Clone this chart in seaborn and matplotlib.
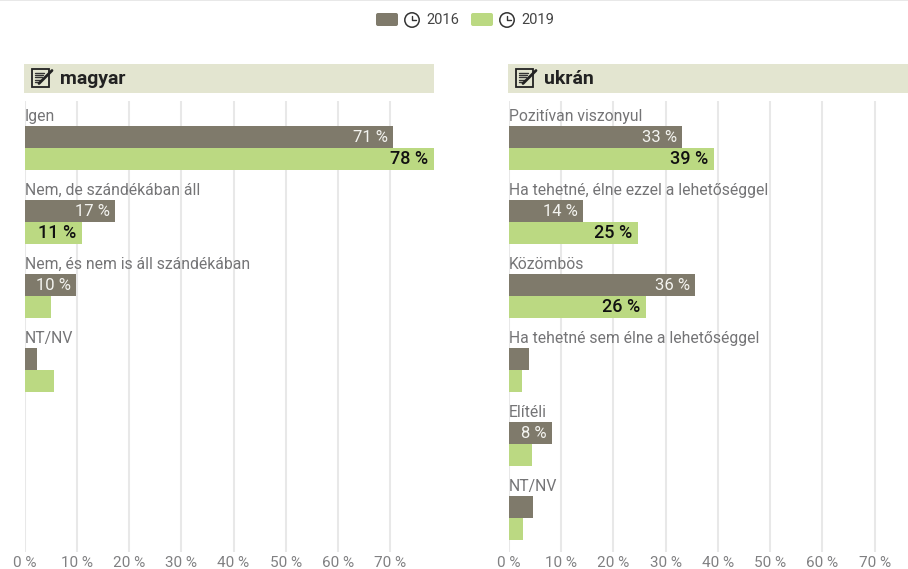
import matplotlib
matplotlib.use("Agg")
import matplotlib.pyplot as plt
import seaborn as sns
import pandas as pd
from matplotlib.patches import Rectangle, FancyBboxPatch, Circle
from matplotlib.lines import Line2D

W, H = 908, 569
DARK, GREEN = "#7f7a6b", "#bbd982"
BAND = "#e3e5d0"
GRID = "#e8e8e8"
LABEL_GREY = "#747476"
TICK_GREY = "#808082"

years = ["2016", "2019"]
ticks = [0, 10, 20, 30, 40, 50, 60, 70]

hu_title = "magyar"
hu_cats = ["Igen", "Nem, de szándékában áll", "Nem, és nem is áll szándékában", "NT/NV"]
hu_2016 = [70.6, 17.3, 9.9, 2.4]
hu_2019 = [78.4, 11.0, 5.1, 5.6]

uk_title = "ukrán"
uk_cats = ["Pozitívan viszonyul", "Ha tehetné, élne ezzel a lehetőséggel", "Közömbös",
           "Ha tehetné sem élne a lehetőséggel", "Elítéli", "NT/NV"]
uk_2016 = [33.1, 14.2, 35.6, 3.9, 8.3, 4.7]
uk_2019 = [39.3, 24.7, 26.3, 2.5, 4.5, 2.7]

sns.set_theme(style="white")
plt.rcParams["font.family"] = ["Roboto", "DejaVu Sans"]

fig = plt.figure(figsize=(W / 100, H / 100), dpi=100, facecolor="white")

# Pixel-addressed layer for the legend and header bands
layer = fig.add_axes([0, 0, 1, 1], zorder=0)
layer.set_xlim(0, W)
layer.set_ylim(H, 0)
layer.axis("off")


def clock(cx, cy, r=7.2):
    layer.add_patch(Circle((cx, cy), r, fc="white", ec="#333333", lw=1.1))
    layer.add_line(Line2D([cx, cx, cx + 4], [cy - 4.5, cy, cy], color="#333333", lw=1.0))


def note_icon(x, y):
    layer.add_patch(Rectangle((x, y), 17, 18, fc="none", ec="#222222", lw=1.3))
    for k in range(5):
        layer.add_line(Line2D([x + 2.5, x + 12 - k], [y + 4 + 2.4 * k] * 2, color="#333333", lw=1.0))
    layer.add_line(Line2D([x + 7, x + 20], [y + 15, y + 2], color="#222222", lw=2.0))


def legend_entry(x, colour, label):
    layer.add_patch(FancyBboxPatch((x + 1.5, 14.5), 19, 10, boxstyle="round,pad=1.5,rounding_size=2",
                                   fc=colour, ec="none"))
    clock(x + 36, 20)
    layer.text(x + 50, 20, label, fontsize=10.5, color="#444444", va="center", ha="left")


layer.add_patch(Rectangle((0, 0), W, 1, fc=GRID, ec="none"))
legend_entry(376, DARK, years[0])
legend_entry(471, GREEN, years[1])


def panel(title, cats, v16, v19, zero_px, right_px, scale, band):
    left = zero_px / W
    width = (right_px - zero_px) / W
    top_px, bottom_px = 101, 552
    ax = fig.add_axes([left, 1 - bottom_px / H, width, (bottom_px - top_px) / H], zorder=2)
    ax.patch.set_alpha(0)

    frame = pd.DataFrame({
        "valasz": cats * 2,
        "ertek": v16 + v19,
        "ev": [years[0]] * len(cats) + [years[1]] * len(cats),
    })
    sns.barplot(data=frame, y="valasz", x="ertek", hue="ev", palette=[DARK, GREEN], orient="h",
                width=0.59, gap=0, saturation=1, legend=False, linewidth=0, ax=ax, zorder=3)

    ax.set_xlim(0, (right_px - zero_px) / scale)
    ax.set_ylim((bottom_px - 148.2) / 74, (top_px - 148.2) / 74)
    ax.set_xlabel("")
    ax.set_ylabel("")
    ax.set_yticks([])
    ax.set_xticks(ticks)
    ax.set_xticklabels([f"{t} %" for t in ticks], fontsize=11, color=TICK_GREY)
    ax.tick_params(axis="x", length=0, pad=3)
    ax.grid(axis="x", color=GRID, lw=1.5)
    ax.grid(axis="y", visible=False)
    ax.set_axisbelow(True)
    sns.despine(ax=ax, left=True, bottom=True)

    # Value labels sit inside the bar end; small bars stay unlabelled
    for container, colour, weight, size, inset in zip(ax.containers, ["#f4f4f0", "#111111"],
                                                      ["normal", "medium"], [12, 13], [5, 6]):
        for bar in container:
            val = bar.get_width()
            if val >= 8:
                ax.annotate(f"{val:.0f} %", xy=(val, bar.get_y() + bar.get_height() / 2),
                            xytext=(-inset * 0.72, 0), textcoords="offset points",
                            ha="right", va="center", color=colour, fontsize=size,
                            fontweight=weight, zorder=5)

    for i, name in enumerate(cats):
        ax.annotate(name, xy=(0, i - 0.37), xytext=(0.3, 0), textcoords="offset points",
                    fontsize=11.3, color=LABEL_GREY, va="baseline", ha="left", zorder=4,
                    annotation_clip=False)

    band_x, band_w = band
    layer.add_patch(Rectangle((band_x, 64), band_w, 29, fc=BAND, ec="none"))
    note_icon(band_x + 8, 68.5)
    layer.text(band_x + 36, 79, title, fontsize=14, fontweight="bold", color="#222222",
               va="center", ha="left")


panel(hu_title, hu_cats, hu_2016, hu_2019, 24.5, 437.5, 5.226, (24, 410))
panel(uk_title, uk_cats, uk_2016, uk_2019, 508.7, 907, 5.228, (508, 400))

fig.savefig("out.png", dpi=100)
